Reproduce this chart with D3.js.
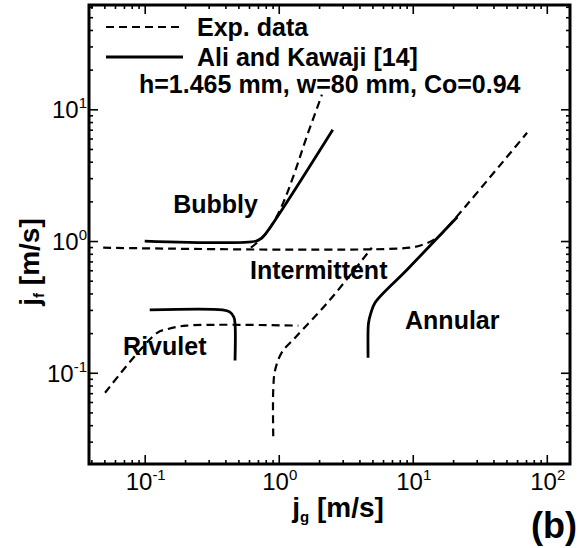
<!DOCTYPE html>
<html>
<head>
<meta charset="utf-8">
<script src="https://cdn.jsdelivr.net/npm/d3@7"></script>
<style>
  body { margin: 0; background: #fff; }
  text { font-family: "Liberation Sans", Arial, Helvetica, sans-serif; fill: #000; }
</style>
</head>
<body>
<svg id="chart" width="587" height="548"></svg>
<script>
// Flow-regime transition boundaries, superficial gas velocity jg vs liquid velocity jf (m/s)

// Experimental boundaries (dashed)
const expIntAnnJg = [0.049, 9.5, 12.3, 15.2, 18.0, 71.3];
const expIntAnnJf = [0.89, 0.89, 0.95, 1.06, 1.26, 6.64];

const expBubblyJg = [0.62, 0.75, 0.9, 1.08, 1.3, 1.6, 2.1];
const expBubblyJf = [0.89, 1.05, 1.35, 1.95, 3.2, 6.0, 12.9];

const expIntRivJg = [0.91, 0.91, 0.94, 1.06, 1.32, 2.41, 4.95];
const expIntRivJf = [0.033, 0.074, 0.105, 0.144, 0.184, 0.358, 0.89];

const expRivuletJg = [0.0506, 0.123, 0.149, 0.205, 1.4];
const expRivuletJf = [0.0705, 0.2, 0.215, 0.228, 0.228];

// Ali and Kawaji [14] boundaries (solid)
const akBubblyJg = [0.1, 0.68, 0.74, 0.8, 2.53];
const akBubblyJf = [1.0, 1.0, 1.05, 1.14, 7.0];

const akRivuletJg = [0.109, 0.38, 0.43, 0.462, 0.472, 0.472];
const akRivuletJf = [0.3, 0.3, 0.29, 0.265, 0.235, 0.124];

const akAnnularJg = [21.5, 9.06, 5.23, 4.85, 4.68, 4.64, 4.64];
const akAnnularJf = [1.52, 0.605, 0.34, 0.28, 0.24, 0.21, 0.13];

// Axis decades and their exponent labels
const xMajorTicks = [0.1, 1, 10, 100];
const xTickExponents = ["-1", "0", "1", "2"];
const yMajorTicks = [0.1, 1, 10];
const yTickExponents = ["-1", "0", "1"];

// Regime labels (anchored at the start of each word's baseline)
const regimeNames = ["Bubbly", "Intermittent", "Rivulet", "Annular"];
const regimeJg = [0.163, 0.61, 0.069, 8.76];
const regimeJf = [1.64, 0.517, 0.137, 0.216];

const legendLabels = ["Exp. data", "Ali and Kawaji [14]"];
const conditionText = "h=1.465 mm, w=80 mm, Co=0.94";

const svg = d3.select("#chart");
const L = 89, R = 570, T = 5, B = 464;

const x = d3.scaleLog().domain([0.0384, 149]).range([L, R]);
const y = d3.scaleLog().domain([0.0203, 61.9]).range([B, T]);

const zip = (a, b) => a.map((v, i) => [v, b[i]]);
const line = d3.line()
  .x(d => x(d[0]))
  .y(d => y(d[1]))
  .curve(d3.curveCatmullRom.alpha(0.5));

// Ticks on all four sides, pointing inward
function ticks(axisFn, scale, values, size, transform) {
  const g = svg.append("g")
    .attr("transform", transform)
    .call(axisFn(scale).tickValues(values).tickSize(-size).tickFormat(""));
  g.select(".domain").remove();
  g.selectAll("line").attr("stroke", "#000").attr("stroke-width", 1.6);
}
const xMinor = x.ticks().filter(v => !xMajorTicks.includes(v));
const yMinor = y.ticks().filter(v => !yMajorTicks.includes(v));
ticks(d3.axisBottom, x, xMinor, 4, `translate(0,${B})`);
ticks(d3.axisTop, x, xMinor, 4, `translate(0,${T})`);
ticks(d3.axisLeft, y, yMinor, 4, `translate(${L},0)`);
ticks(d3.axisRight, y, yMinor, 4, `translate(${R},0)`);
ticks(d3.axisBottom, x, xMajorTicks, 9, `translate(0,${B})`);
ticks(d3.axisTop, x, xMajorTicks, 9, `translate(0,${T})`);
ticks(d3.axisLeft, y, yMajorTicks, 9, `translate(${L},0)`);
ticks(d3.axisRight, y, yMajorTicks, 9, `translate(${R},0)`);

// Frame
svg.append("rect")
  .attr("x", L).attr("y", T).attr("width", R - L).attr("height", B - T)
  .attr("fill", "none").attr("stroke", "#000").attr("stroke-width", 3);

// Tick labels with superscript exponents
xMajorTicks.forEach((v, i) => {
  const t = svg.append("text")
    .attr("x", x(v) + 1).attr("y", 490)
    .attr("text-anchor", "middle")
    .attr("font-size", 24);
  t.append("tspan").text("10");
  t.append("tspan").attr("font-size", 15).attr("dy", -10).text(xTickExponents[i]);
});
yMajorTicks.forEach((v, i) => {
  const t = svg.append("text")
    .attr("x", 87).attr("y", y(v) + 9)
    .attr("text-anchor", "end")
    .attr("font-size", 24);
  t.append("tspan").text("10");
  t.append("tspan").attr("font-size", 15).attr("dy", -10).text(yTickExponents[i]);
});

// Axis titles
const xt = svg.append("text")
  .attr("x", 338).attr("y", 517)
  .attr("text-anchor", "middle")
  .attr("font-size", 28).attr("font-weight", "bold");
xt.append("tspan").text("j");
xt.append("tspan").attr("font-size", 15).attr("dy", 5).text("g");
xt.append("tspan").attr("dy", -5).text(" [m/s]");

const yt = svg.append("text")
  .attr("transform", "translate(39,262) rotate(-90)")
  .attr("text-anchor", "middle")
  .attr("font-size", 28).attr("font-weight", "bold");
yt.append("tspan").text("j");
yt.append("tspan").attr("font-size", 15).attr("dy", 5).text("f");
yt.append("tspan").attr("dy", -5).text(" [m/s]");

svg.append("text")
  .attr("x", 531).attr("y", 538)
  .attr("font-family", "'Liberation Serif', 'Times New Roman', serif")
  .attr("font-size", 36).attr("font-weight", "bold")
  .text("(b)");

// Boundary curves
const dashed = { width: 2.2, dash: "8,5" };
const solid = { width: 2.8, dash: null };
const curves = [
  [zip(expIntAnnJg, expIntAnnJf), dashed],
  [zip(expBubblyJg, expBubblyJf), dashed],
  [zip(expIntRivJg, expIntRivJf), dashed],
  [zip(expRivuletJg, expRivuletJf), dashed],
  [zip(akBubblyJg, akBubblyJf), solid],
  [zip(akRivuletJg, akRivuletJf), solid],
  [zip(akAnnularJg, akAnnularJf), solid]
];
curves.forEach(([pts, st]) => {
  svg.append("path")
    .attr("d", line(pts))
    .attr("fill", "none")
    .attr("stroke", "#000")
    .attr("stroke-width", st.width)
    .attr("stroke-dasharray", st.dash);
});

// Regime labels
regimeNames.forEach((name, i) => {
  svg.append("text")
    .attr("x", x(regimeJg[i])).attr("y", y(regimeJf[i]))
    .attr("font-size", 25).attr("font-weight", "bold")
    .text(name);
});

// Legend
const legendY = [27, 57];
const legendStyles = [dashed, solid];
legendLabels.forEach((lab, i) => {
  svg.append("line")
    .attr("x1", 106).attr("x2", 183)
    .attr("y1", legendY[i]).attr("y2", legendY[i])
    .attr("stroke", "#000")
    .attr("stroke-width", legendStyles[i].width)
    .attr("stroke-dasharray", legendStyles[i].dash);
  svg.append("text")
    .attr("x", 197).attr("y", legendY[i] + 9)
    .attr("font-size", 25).attr("font-weight", "bold")
    .text(lab);
});
svg.append("text")
  .attr("x", 139).attr("y", 93)
  .attr("font-size", 25).attr("font-weight", "bold")
  .text(conditionText);
</script>
</body>
</html>
